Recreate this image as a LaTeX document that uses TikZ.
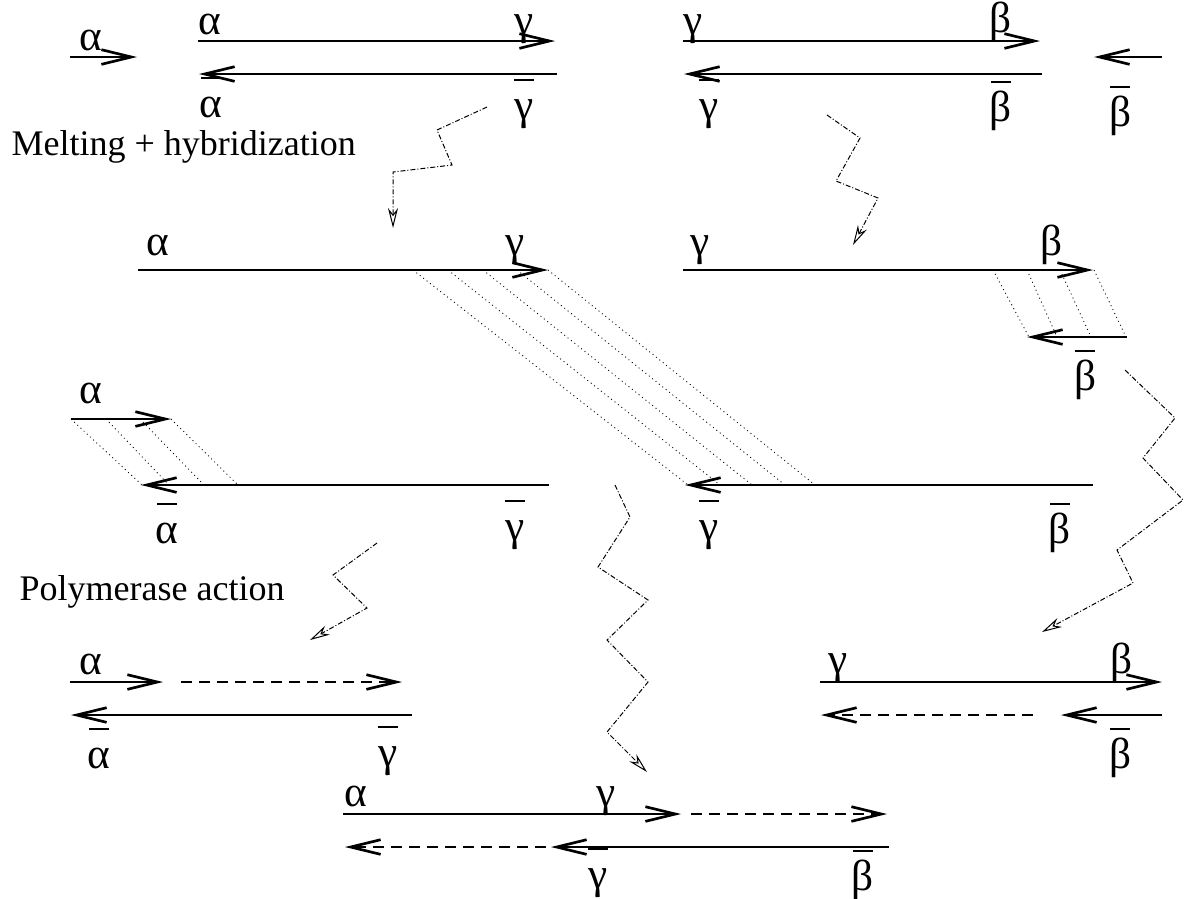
\documentclass[tikz,border=0pt]{standalone}
\usepackage{fontspec}
\setmainfont{Liberation Serif}
\usetikzlibrary{arrows.meta}
\newcommand{\ovl}[1]{\ooalign{#1\cr\hidewidth\rule[11.3pt]{5.8pt}{0.6pt}\hidewidth\cr}}

\begin{document}
\begin{tikzpicture}[
    x=0.3pt, y=-0.3pt,
    every node/.style={font=\fontsize{10.8}{12}\selectfont, inner sep=0pt},
    lbl/.style={anchor=base, font=\fontsize{13}{14}\selectfont},
    strand/.style={line width=0.8pt, -{Straight Barb[length=9pt, width=4.4pt]}},
    newstrand/.style={strand, dash pattern=on 3.3pt off 2.1pt},
    pairing/.style={line width=0.25pt, dash pattern=on 0.3pt off 1pt},
    zigzag/.style={line width=0.3pt, dash pattern=on 1.5pt off 0.6pt on 0.3pt off 0.6pt,
      -{Stealth[open, length=6pt, width=3pt]}},
  ]
  \useasboundingbox (0,0) rectangle (1187,898);

  % Ausgangslage: zwei Doppelstraenge, zwei Primer
  \coordinate (pa1) at (70,57);    \coordinate (pa2) at (137,57);
  \coordinate (d1a) at (198,41);   \coordinate (d1b) at (555,41);
  \coordinate (d1c) at (557,74);   \coordinate (d1d) at (199,74);
  \coordinate (d2a) at (683,41);   \coordinate (d2b) at (1040,41);
  \coordinate (d2c) at (1042,74);  \coordinate (d2d) at (684,74);
  \coordinate (pb1) at (1162,57);  \coordinate (pb2) at (1094,57);
  \draw[strand] (pa1) -- (pa2);
  \draw[strand] (d1a) -- (d1b);
  \draw[strand] (d1c) -- (d1d);
  \draw[strand] (d2a) -- (d2b);
  \draw[strand] (d2c) -- (d2d);
  \draw[strand] (pb1) -- (pb2);

  \node[lbl] (l01) at (91,50) {α};
  \node[lbl] (l02) at (210,34) {α};
  \node[lbl] (l03) at (524,34) {γ};
  \node[lbl] (l04) at (211,117) {\ovl{α}};
  \node[lbl] (l05) at (524,119) {\ovl{γ}};
  \node[lbl] (l06) at (693,34) {γ};
  \node[lbl] (l07) at (1001,32) {β};
  \node[lbl] (l08) at (709,119) {\ovl{γ}};
  \node[lbl] (l09) at (1001,121) {\ovl{β}};
  \node[lbl] (l10) at (1120,126) {\ovl{β}};

  \node[anchor=base west] (melt) at (11,155) {Melting + hybridization};

  % Schmelzen und Hybridisieren
  \coordinate (z1s) at (487,107);  \coordinate (z1e) at (393,228);
  \draw[zigzag] (z1s) -- (437,130) -- (452,165) -- (393,172) -- (z1e);
  \coordinate (z2s) at (827,115);  \coordinate (z2e) at (853,245);
  \draw[zigzag] (z2s) -- (860,138) -- (836,181) -- (878,198) -- (z2e);

  \coordinate (e1a) at (138,270);  \coordinate (e1b) at (548,270);
  \coordinate (e2a) at (683,270);  \coordinate (e2b) at (1093,270);
  \coordinate (e3a) at (1127,337); \coordinate (e3b) at (1027,337);
  \coordinate (f1a) at (71,419);   \coordinate (f1b) at (171,419);
  \coordinate (f2a) at (549,485);  \coordinate (f2b) at (141,485);
  \coordinate (f3a) at (1093,485); \coordinate (f3b) at (685,485);
  \draw[strand] (e1a) -- (e1b);
  \draw[strand] (e2a) -- (e2b);
  \draw[strand] (e3a) -- (e3b);
  \draw[strand] (f1a) -- (f1b);
  \draw[strand] (f2a) -- (f2b);
  \draw[strand] (f3a) -- (f3b);

  % Basenpaarung
  \foreach \i/\u/\l in {1/413/688, 2/448/720, 3/483/752, 4/517/785, 5/548/815} {
    \coordinate (hu\i) at (\u,270);
    \coordinate (hl\i) at (\l,485);
    \draw[pairing] (hu\i) -- (hl\i);
  }
  \foreach \i/\u/\l in {1/71/142, 2/106/169, 3/140/204, 4/171/238} {
    \coordinate (gu\i) at (\u,419);
    \coordinate (gl\i) at (\l,485);
    \draw[pairing] (gu\i) -- (gl\i);
  }
  \foreach \i/\u/\l in {1/993/1029, 2/1027/1057, 3/1060/1091, 4/1094/1126} {
    \coordinate (ku\i) at (\u,270);
    \coordinate (kl\i) at (\l,337);
    \draw[pairing] (ku\i) -- (kl\i);
  }

  \node[lbl] (l11) at (158,255) {α};
  \node[lbl] (l12) at (515,255) {γ};
  \node[lbl] (l13) at (700,255) {γ};
  \node[lbl] (l14) at (1052,255) {β};
  \node[lbl] (l15) at (1085,390) {\ovl{β}};
  \node[lbl] (l16) at (91,403) {α};
  \node[lbl] (l17) at (167,543) {\ovl{α}};
  \node[lbl] (l18) at (515,540) {\ovl{γ}};
  \node[lbl] (l19) at (709,540) {\ovl{γ}};
  \node[lbl] (l20) at (1060,543) {\ovl{β}};

  \node[anchor=base west] (poly) at (19,600) {Polymerase action};

  % Polymerase
  \coordinate (z3s) at (1125,370); \coordinate (z3e) at (1042,632);
  \draw[zigzag] (z3s) -- (1175,418) -- (1143,458) -- (1183,500) -- (1117,550)
    -- (1133,583) -- (z3e);
  \coordinate (z4s) at (377,543);  \coordinate (z4e) at (310,640);
  \draw[zigzag] (z4s) -- (333,575) -- (367,608) -- (z4e);
  \coordinate (z5s) at (615,485);  \coordinate (z5e) at (647,772);
  \draw[zigzag] (z5s) -- (630,517) -- (598,567) -- (648,600) -- (607,640)
    -- (648,682) -- (607,732) -- (z5e);

  \coordinate (m1a) at (70,682);   \coordinate (m1b) at (163,682);
  \coordinate (m1c) at (181,682);  \coordinate (m1d) at (402,682);
  \coordinate (m1e) at (412,715);  \coordinate (m1f) at (71,715);
  \draw[strand] (m1a) -- (m1b);
  \draw[newstrand] (m1c) -- (m1d);
  \draw[strand] (m1e) -- (m1f);

  \coordinate (m2a) at (820,682);  \coordinate (m2b) at (1162,682);
  \coordinate (m2c) at (1162,715); \coordinate (m2d) at (1061,715);
  \coordinate (m2e) at (1033,715); \coordinate (m2f) at (821,715);
  \draw[strand] (m2a) -- (m2b);
  \draw[strand] (m2c) -- (m2d);
  \draw[newstrand] (m2e) -- (m2f);

  \coordinate (m3a) at (343,814);  \coordinate (m3b) at (681,814);
  \coordinate (m3c) at (691,814);  \coordinate (m3d) at (887,814);
  \coordinate (m3e) at (889,847);  \coordinate (m3f) at (551,847);
  \coordinate (m3g) at (546,847);  \coordinate (m3h) at (345,847);
  \draw[strand] (m3a) -- (m3b);
  \draw[newstrand] (m3c) -- (m3d);
  \draw[strand] (m3e) -- (m3f);
  \draw[newstrand] (m3g) -- (m3h);

  \node[lbl] (l21) at (91,674) {α};
  \node[lbl] (l22) at (99,768) {\ovl{α}};
  \node[lbl] (l23) at (388,766) {\ovl{γ}};
  \node[lbl] (l24) at (838,673) {γ};
  \node[lbl] (l25) at (1122,673) {β};
  \node[lbl] (l26) at (1120,768) {\ovl{β}};
  \node[lbl] (l27) at (356,806) {α};
  \node[lbl] (l28) at (606,806) {γ};
  \node[lbl] (l29) at (598,888) {\ovl{γ}};
  \node[lbl] (l30) at (863,890) {\ovl{β}};
\end{tikzpicture}
\end{document}
